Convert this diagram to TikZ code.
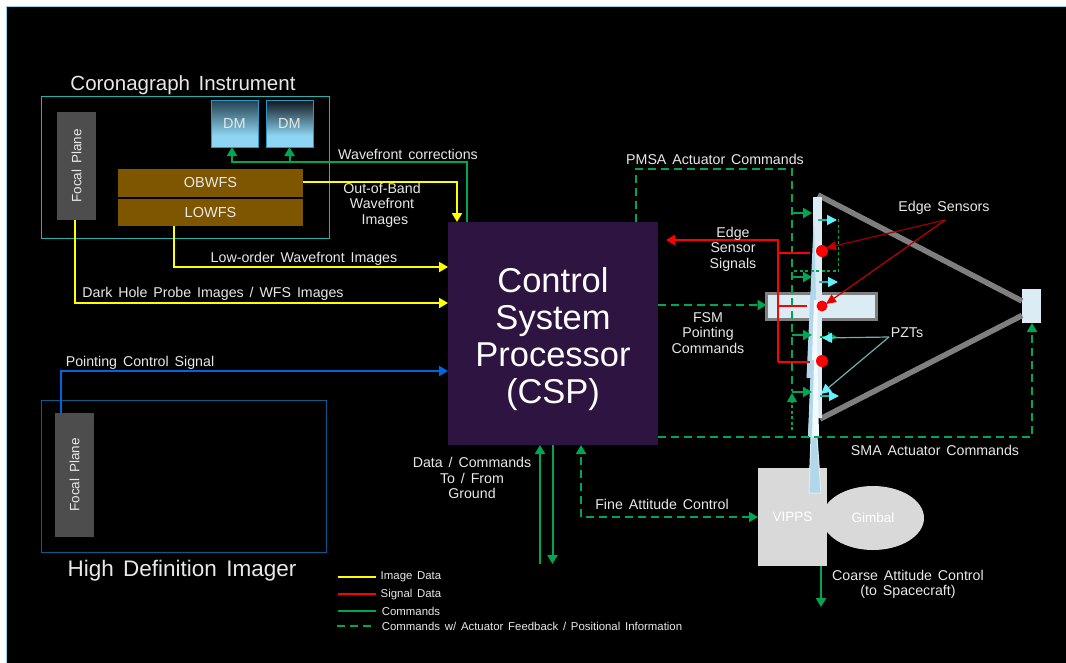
\documentclass[tikz,border=0pt]{standalone}
\usepackage{fontspec}
\setmainfont[WordSpace=1.5]{Liberation Sans}
\usetikzlibrary{arrows.meta,calc,shapes.geometric}
\definecolor{cmdgreen}{HTML}{00A651}
\definecolor{imgyellow}{HTML}{FFFF00}
\definecolor{sigred}{HTML}{FF0000}
\definecolor{ptblue}{HTML}{0066E0}
\definecolor{cspurple}{HTML}{2E1440}
\definecolor{brownbox}{HTML}{7F5600}
\definecolor{fpgray}{HTML}{4D4D4D}
\definecolor{mirror}{HTML}{DCECF5}
\definecolor{mirrorb}{HTML}{B0D8EA}
\definecolor{strut}{HTML}{7F7F7F}
\definecolor{lightgray}{HTML}{D9D9D9}
\definecolor{labeltxt}{HTML}{E8E8E8}
\definecolor{teal1}{HTML}{22B5AE}
\definecolor{hdiblue}{HTML}{0B5A8C}
\definecolor{dmedge}{HTML}{2F97C8}
\definecolor{pzt}{HTML}{6FAFAF}
\definecolor{tipcyan}{HTML}{66F0FF}
\definecolor{dmlight}{HTML}{8DD5F2}
\definecolor{dmdark1}{HTML}{24404F}
\definecolor{dmdark2}{HTML}{10161C}
\pgfdeclareverticalshading{dmone}{100bp}{color(0bp)=(dmlight);color(37bp)=(dmlight);color(75bp)=(dmdark1);color(100bp)=(dmdark1)}
\pgfdeclareverticalshading{dmtwo}{100bp}{color(0bp)=(dmlight);color(37bp)=(dmlight);color(75bp)=(dmdark2);color(100bp)=(dmdark2)}
\tikzset{
  x=1pt,y=-1pt,
  >={Triangle[length=9pt,width=10pt]},
  lbl/.style={text=labeltxt,align=center,inner sep=0pt,font=\fontsize{14.2}{15.5}\selectfont},
  smalllbl/.style={text=labeltxt,inner sep=0pt,font=\fontsize{11.4}{12}\selectfont},
  titlelbl/.style={text=labeltxt,inner sep=0pt,font=\fontsize{20.5}{22}\selectfont},
  fp/.style={fill=fpgray,text=labeltxt,inner sep=0pt,outer sep=0pt,minimum width=39pt,font=\fontsize{13.5}{15}\selectfont},
  wfs/.style={fill=brownbox,text=labeltxt,inner sep=0pt,outer sep=0pt,minimum width=185pt,minimum height=27.5pt,font=\fontsize{14.5}{16}\selectfont},
  dm/.style={draw=dmedge,line width=1pt,text=labeltxt,inner sep=0pt,outer sep=0pt,minimum width=47pt,minimum height=47pt,font=\fontsize{14.5}{16}\selectfont},
  yel/.style={draw=imgyellow,line width=2pt},
  grn/.style={draw=cmdgreen,line width=2pt},
  grnd/.style={draw=cmdgreen,line width=2pt,dash pattern=on 8pt off 5pt},
  grnt/.style={draw=cmdgreen,line width=1.4pt,dash pattern=on 3pt off 2.5pt},
  sigline/.style={draw=sigred,line width=2pt},
  blu/.style={draw=ptblue,line width=2pt},
  shortg/.style={draw=cmdgreen,line width=2pt},
  shortc/.style={draw=teal1,line width=1.6pt,-{Triangle[length=10pt,width=10pt,fill=tipcyan,color=tipcyan]}},
  sensordot/.style={circle,fill=sigred,inner sep=0pt,minimum size=#1},
  pztline/.style={draw=pzt,line width=1.2pt,-{Triangle[length=10pt,width=10pt,color=tipcyan]}},
  strutline/.style={draw=strut,line width=5.5pt},
}
\begin{document}
\begin{tikzpicture}
\useasboundingbox (0,0) rectangle (1066,662);
% page
\fill[white] (0,0) rectangle (1066,662);
\fill[black,draw=dmlight,line width=1pt] (6,6) rectangle (1068,664);

% instrument frames
\node[draw=teal1,line width=1pt,minimum width=288pt,minimum height=142pt,inner sep=0pt,outer sep=0pt] (cgi) at (185,167) {};
\node[draw=hdiblue,line width=1pt,minimum width=285pt,minimum height=152pt,inner sep=0pt,outer sep=0pt] (hdi) at (183.5,476) {};
\node[titlelbl] (cgititle) at (183,85) {Coronagraph Instrument};
\node[titlelbl,font=\fontsize{22.5}{24}\selectfont] (hdititle) at (182,571) {High Definition Imager};

\node[fp,minimum height=108pt] (fp1) at (76.5,166) {\rotatebox{90}{Focal Plane}};
\node[fp,minimum height=124pt] (fp2) at (74.5,475) {\rotatebox{90}{Focal Plane}};
\node[dm,shading=dmone] (dm1) at (234.5,123.5) {DM};
\node[dm,shading=dmtwo] (dm2) at (289.5,123.5) {DM};
\node[wfs] (ob) at (210.5,183) {OBWFS};
\node[wfs] (low) at (210.5,212.5) {LOWFS};

% processor
\node[fill=cspurple,inner sep=0pt,outer sep=0pt,minimum width=210pt,minimum height=223pt] (csp) at (553,333.5) {};
\node[text=white,align=center,inner sep=0pt,font=\fontsize{34.5}{37}\selectfont] (csptext) at (553,339) {Control\\System\\Processor\\(CSP)};

% telescope
\coordinate (apexT) at (818,195);
\coordinate (apexB) at (820,419);
\node[fill=mirror,inner sep=0pt,outer sep=0pt,minimum width=19pt,minimum height=34pt] (sm) at (1031.5,306) {};
\draw[strutline] (apexT) -- ($(sm.west)+(0,-5)$);
\draw[strutline] (apexB) -- ($(sm.west)+(0,9.5)$);
\node[draw=strut,line width=2.6pt,fill=mirror,inner sep=0pt,outer sep=0pt,minimum width=110pt,minimum height=26pt] (fsm) at (821.5,306.5) {};

% primary mirror
\fill[mirror] (813,197) -- (821.5,197) -- (821.5,418) -- (813,418) -- cycle;
\fill[mirrorb] (814,215) -- (816,300) -- (813,378) -- (806.5,378) -- cycle;
\fill[white!85!mirrorb] (814,300) -- (818,300) -- (817,340) -- (819,437) -- (808,437) -- (812,360) -- cycle;
\fill[mirrorb] (811,360) -- (814,360) -- (812,437) -- (808,437) -- cycle;

% VIPPS and gimbal
\node[ellipse,fill=lightgray,text=white,inner sep=0pt,outer sep=0pt,minimum width=102pt,minimum height=64pt,font=\fontsize{13.5}{15}\selectfont] (gimbal) at (873,518) {Gimbal};
\node[fill=lightgray,text=white,inner sep=0pt,outer sep=0pt,minimum width=69pt,minimum height=98pt,font=\fontsize{13.5}{15}\selectfont] (vipps) at (792.5,517) {VIPPS};
\fill[mirrorb,draw=mirror,line width=1pt] (811,437) -- (817,437) -- (821,493) -- (809,493) -- cycle;

% yellow image data
\draw[yel,->] (ob.east |- 0,182) -| (457,222);
\draw[yel,->] (low.south -| 174,0) |- (csp.west |- 0,267);
\draw[yel,->] (fp1.south -| 75,0) |- (csp.west |- 0,303);

% green wavefront corrections
\draw[grn,->] (467,222) |- (232,162) -- (dm1.south -| 232,0);
\draw[grn,->] (dm2.south |- 0,162) -- (dm2.south);

% blue pointing
\draw[blu,->] (fp2.north -| 61,0) |- (csp.west |- 0,371);

% PMSA dashed
\draw[grnd] (636,222) |- (792,169) -- (792,391);
\draw[grnt,->] (792,430) -- (792,393);
\draw[grnt] (838.5,219) -- (838.5,271) -- (792,271);
\foreach \yy in {213,277,335,392}{
  \draw[shortg,->] (792,\yy) -- (812,\yy);
}
\foreach \yy/\xa in {220/818,282/819,396/820}{
  \draw[shortc] (\xa,\yy) -- (\xa+19,\yy);
}
\draw[shortg,->] (820,337) -- (837,337);

% red signals
\draw[sigline,->] (778,362) -- (778,240) -- (666,240);
\draw[sigline] (778,253) -- (810,253);
\draw[sigline] (778,306) -- (807,306);
\draw[sigline] (778,362) -- (810,362);
\node[sensordot=12pt] (es1) at (822,251) {};
\node[sensordot=11pt] (es2) at (822,306) {};
\node[sensordot=12pt] (es3) at (822,361) {};

% leaders
\node[lbl] (edgesensors) at (944,208) {Edge Sensors};
\coordinate (esfoot) at (945,220);
\draw[draw=sigred!60!black,line width=1.2pt,-{Triangle[length=10pt,width=9pt,color=sigred!75!black]}] (esfoot) -- (826,248);
\draw[draw=sigred!75!black,line width=1.2pt,-{Triangle[length=10pt,width=9pt,color=sigred!90!black]}] (esfoot) -- (826,304);
\node[lbl] (pzts) at (907,333) {PZTs};
\coordinate (pztfoot) at (889,337);
\draw[pztline] (pztfoot) -- (822,338);
\draw[pztline] (pztfoot) -- (821,394);

% FSM, SMA, fine attitude, data
\draw[grnd,->] (csp.east |- 0,305) -- (fsm.west |- 0,305);
\draw[grnd,->] (csp.east |- 0,437) -| (sm.south -| 1032,0);
\draw[grnd,<->] (vipps.west |- 0,517) -| (581,445);
\coordinate (gndup) at (540,564);
\coordinate (gnddown) at (552.5,564);
\draw[grn,->] (gndup) -- (gndup |- csp.south);
\draw[grn,->] (gnddown |- csp.south) -- (gnddown);
\coordinate (coarse) at (821,607);
\draw[grn,->] (vipps.south -| coarse) -- (coarse);

% labels
\node[lbl] at (408,154) {Wavefront corrections};
\node[lbl] at (382,205) {Out-of-Band\\Wavefront\\\ Images};
\node[lbl] at (304,259) {Low-order Wavefront Images};
\node[lbl] at (213,294) {Dark Hole Probe Images / WFS Images};
\node[lbl] at (140,363) {Pointing Control Signal};
\node[lbl] at (715,159) {PMSA Actuator Commands};
\node[lbl] at (733,249) {Edge\\Sensor\\Signals};
\node[lbl] at (708,333) {FSM\\Pointing\\Commands};
\node[lbl] at (935,450) {SMA Actuator Commands};
\node[lbl] at (472,478) {Data / Commands\\To / From\\Ground};
\node[lbl] at (662,504) {Fine Attitude Control};
\node[lbl] at (908,584.5) {Coarse Attitude Control\\(to Spacecraft)};

% legend
\coordinate (la) at (338,576.5); \coordinate (lb) at (376,576.5);
\coordinate (lc) at (338,594);   \coordinate (ld) at (376,594);
\coordinate (le) at (338,611);   \coordinate (lf) at (376,611);
\coordinate (lg) at (337,625.5); \coordinate (lh) at (376,625.5);
\draw[yel] (la) -- (lb);
\draw[sigline] (lc) -- (ld);
\draw[grn] (le) -- (lf);
\draw[grnd] (lg) -- (lh);
\node[smalllbl] at (411,576.5) {Image Data};
\node[smalllbl] at (411,594.5) {Signal Data};
\node[smalllbl] at (411,611) {Commands};
\node[smalllbl] at (532,626) {Commands w/ Actuator Feedback / Positional Information};
\end{tikzpicture}
\end{document}
